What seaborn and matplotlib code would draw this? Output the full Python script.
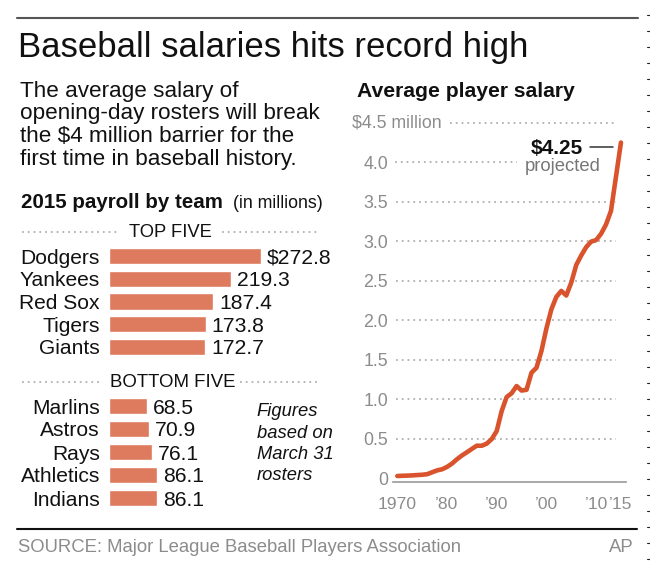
import matplotlib
matplotlib.use("Agg")
import matplotlib.pyplot as plt
from matplotlib.lines import Line2D
import seaborn as sns
import pandas as pd

# ---------------- data ----------------
top_teams = ["Dodgers", "Yankees", "Red Sox", "Tigers", "Giants"]
top_payroll = [272.8, 219.3, 187.4, 173.8, 172.7]
top_labels = ["$272.8", "219.3", "187.4", "173.8", "172.7"]

bottom_teams = ["Marlins", "Astros", "Rays", "Athletics", "Indians"]
bottom_payroll = [68.5, 70.9, 76.1, 86.1, 86.1]
bottom_labels = ["68.5", "70.9", "76.1", "86.1", "86.1"]

years = list(range(1970, 2016))
salary = [0.029, 0.032, 0.034, 0.037, 0.041, 0.045, 0.052, 0.076, 0.100, 0.114,
          0.144, 0.186, 0.241, 0.289, 0.329, 0.372, 0.413, 0.412, 0.439, 0.497,
          0.598, 0.851, 1.029, 1.076, 1.168, 1.111, 1.120, 1.337, 1.399, 1.611,
          1.896, 2.139, 2.296, 2.372, 2.314, 2.477, 2.699, 2.820, 2.926, 2.996,
          3.015, 3.095, 3.213, 3.386, 3.818, 4.25]

x_ticks = [1970, 1980, 1990, 2000, 2010, 2015]
x_ticklabels = ["1970", "\u201980", "\u201990", "\u201900", "\u201910", "\u201915"]
y_ticks = [0, 0.5, 1.0, 1.5, 2.0, 2.5, 3.0, 3.5, 4.0, 4.5]
y_ticklabels = ["0", "0.5", "1.0", "1.5", "2.0", "2.5", "3.0", "3.5", "4.0", ""]
top_tick_label = "$4.5 million"

# ---------------- style ----------------
sns.set_theme(style="white")
plt.rcParams["font.family"] = ["Liberation Sans", "DejaVu Sans"]

W, H = 650, 573
fig = plt.figure(figsize=(W / 100, H / 100), dpi=100)
fig.patch.set_facecolor("white")

BAR = "#de7a5e"
LINE = "#d9532d"
GRAY = "#8c8c8c"
DOT = "#b0b0b0"
BLACK = "#111111"


def P(x, y):
    return (x / W, 1 - y / H)


def axes_px(left, top, right, bottom):
    return fig.add_axes([left / W, 1 - bottom / H, (right - left) / W, (bottom - top) / H])


def hline_px(x0, x1, y, **kw):
    fig.add_artist(Line2D([x0 / W, x1 / W], [1 - y / H, 1 - y / H], transform=fig.transFigure, **kw))


# rules
hline_px(17, 638, 17.5, color="#555555", lw=1.5)
hline_px(17, 637, 529, color="#111111", lw=1.5)
# right-edge ruler ticks
for yy in range(15, 573, 16):
    hline_px(646.5, 650, yy, color="#222222", lw=0.8)

# title and intro
fig.text(*P(17.5, 57), "Baseball salaries hits record high", fontsize=25,
         color=BLACK, va="baseline", ha="left")
intro = ["The average salary of", "opening-day rosters will break",
         "the $4 million barrier for the", "first time in baseball history."]
for i, line in enumerate(intro):
    fig.text(*P(20, 96.7 + i * 22.8), line, fontsize=16.2, color=BLACK,
             va="baseline", ha="left")

# bar section header
fig.text(*P(21, 208.3), "2015 payroll by team", fontsize=14.8, fontweight="bold",
         color=BLACK, va="baseline", ha="left")
fig.text(*P(323, 208.3), "(in millions)", fontsize=12.8, color=BLACK,
         va="baseline", ha="right")

dots = dict(color=DOT, lw=1.3, linestyle=(0, (1, 2.2)))
fig.text(*P(170, 237.3), "TOP FIVE", fontsize=13.2, color=BLACK, va="baseline", ha="center")
hline_px(22, 118, 231.5, **dots)
hline_px(222, 317, 231.5, **dots)
fig.text(*P(172.5, 387.3), "BOTTOM FIVE", fontsize=13.4, color=BLACK, va="baseline", ha="center")
hline_px(22, 102, 381.5, **dots)
hline_px(240, 317, 381.5, **dots)

fig_note = ["Figures", "based on", "March 31", "rosters"]
for i, line in enumerate(fig_note):
    fig.text(*P(256.7, 416 + i * 21.5), line, fontsize=13.2, style="italic",
             color=BLACK, va="baseline", ha="left")

PXU = 0.555  # px per million


def bar_panel(teams, values, labels, top_c, spacing):
    top = top_c - spacing / 2
    bottom = top_c + spacing * 4.5
    ax = axes_px(109.3, top, 330, bottom)
    df = pd.DataFrame({"team": teams, "payroll": values})
    sns.barplot(data=df, x="payroll", y="team", orient="h", color=BAR,
                saturation=1, width=0.72, ax=ax)
    ax.set_xlim(0, (330 - 109.3) / PXU)
    ax.set_ylim(4.5, -0.5)
    ax.set_xlabel("")
    ax.set_ylabel("")
    ax.set_xticks([])
    ax.tick_params(axis="y", length=0, pad=6.7, labelsize=15.1, labelcolor=BLACK)
    for s in ax.spines.values():
        s.set_visible(False)
    ax.patch.set_alpha(0)
    texts = ax.bar_label(ax.containers[0], labels=labels, padding=4.3, fontsize=15.2,
                         color=BLACK)
    for t in texts:
        t.set_va("center_baseline")
    return ax


bar_panel(top_teams, top_payroll, top_labels, 256, 22.75)
bar_panel(bottom_teams, bottom_payroll, bottom_labels, 406, 23)

# line chart
fig.text(*P(356.7, 97.3), "Average player salary", fontsize=15.2, fontweight="bold",
         color=BLACK, va="baseline", ha="left")

PXY = 4.97   # px per year
PXV = 79.0   # px per $1 million
x0px, y0px = 397.3, 478.3
axl, axr, axt, axb = 393.3, 626, 110, 481.7
ax = axes_px(axl, axt, axr, axb)
ax.set_xlim(1970 - (x0px - axl) / PXY, 1970 + (axr - x0px) / PXY)
ax.set_ylim(-(axb - y0px) / PXV, (y0px - axt) / PXV)
ax.patch.set_alpha(0)

# dotted gridlines
grid = dict(color=DOT, lw=1.3, linestyle=(0, (1, 2.2)))
for v in y_ticks[1:]:
    if v == 4.5:
        ax.hlines(v, 1980.6, 2014.3, **grid)
    elif v == 4.0:
        ax.hlines(v, 1969.6, 1994.0, **grid)
    else:
        ax.hlines(v, 1969.7, 2014.0, **grid)

ldf = pd.DataFrame({"year": years, "salary": salary})
sns.lineplot(data=ldf, x="year", y="salary", color=LINE, lw=3.3, ax=ax,
             solid_capstyle="round", solid_joinstyle="round")

ax.set_xlabel("")
ax.set_ylabel("")
ax.set_yticks(y_ticks)
ax.set_yticklabels(y_ticklabels)
ax.set_xticks(x_ticks)
ax.set_xticklabels(x_ticklabels)
ax.tick_params(axis="y", length=0, pad=3.8, labelsize=12.8, labelcolor=GRAY)
ax.tick_params(axis="x", direction="inout", length=5, width=1, color="#999999",
               pad=8.5, labelsize=12.6, labelcolor=GRAY)
for k in ["top", "right", "left"]:
    ax.spines[k].set_visible(False)
ax.spines["bottom"].set_color("#999999")
ax.spines["bottom"].set_linewidth(1.2)

# top tick label sits further right, next to its gridline
ax.text((351.7 - axl) / (axr - axl), y_ticks[-1], top_tick_label, transform=ax.get_yaxis_transform(),
        fontsize=12.8, color=GRAY, ha="left", va="center")

# annotation
ax.text(2007.4, 4.11, "$4.25", fontsize=15, fontweight="bold", color=BLACK,
        ha="right", va="baseline")
ax.plot([2008.8, 2013.5], [4.19, 4.19], color="#333333", lw=1.1)
ax.text(2003.2, 3.89, "projected", fontsize=13.3, color="#777777",
        ha="center", va="baseline")

# footer
fig.text(*P(17.5, 552), "SOURCE: Major League Baseball Players Association",
         fontsize=13.3, color=GRAY, va="baseline", ha="left")
fig.text(*P(633.5, 552), "AP", fontsize=13.3, color=GRAY, va="baseline", ha="right")

fig.savefig("out.png", dpi=100, facecolor="white")
